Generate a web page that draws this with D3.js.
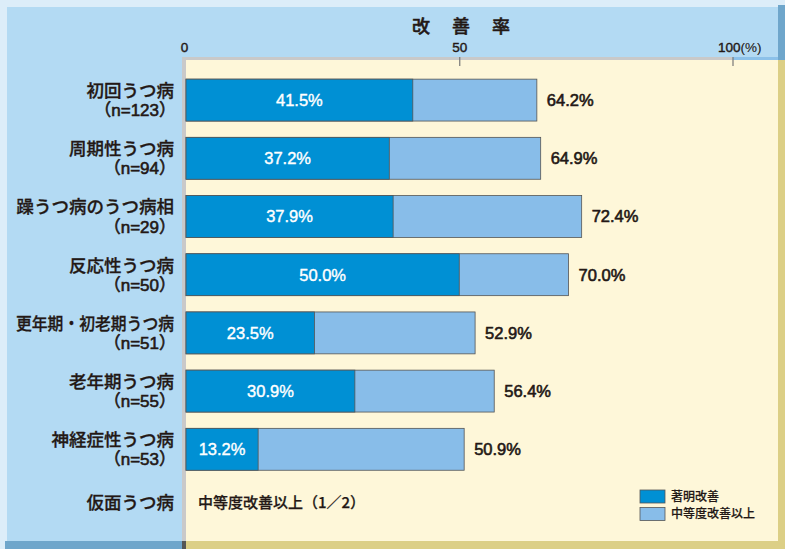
<!DOCTYPE html>
<html><head><meta charset="utf-8">
<script src="https://cdn.jsdelivr.net/npm/d3@7"></script>
<style>
html,body{margin:0;padding:0;background:#fff;}
svg{display:block;}
text{font-family:"Liberation Sans","Noto Sans CJK JP",sans-serif;fill:#231815;}
.jp{font-family:"Noto Sans CJK JP",sans-serif;font-weight:500;stroke:#231815;stroke-width:0.3px;}
.num{font-family:"Liberation Sans","Noto Sans CJK JP",sans-serif;font-weight:normal;stroke:#231815;stroke-width:0.6px;}
</style></head><body>
<script>
const categories = ["初回うつ病","周期性うつ病","躁うつ病のうつ病相","反応性うつ病","更年期・初老期うつ病","老年期うつ病","神経症性うつ病"];
const sampleSizes = ["（n=123）","（n=94）","（n=29）","（n=50）","（n=51）","（n=55）","（n=53）"];
const marked = [41.5, 37.2, 37.9, 50.0, 23.5, 30.9, 13.2];
const moderate = [64.2, 64.9, 72.4, 70.0, 52.9, 56.4, 50.9];
const tickValues = [0, 50, 100];
const extraCategory = "仮面うつ病";
const extraNote = "中等度改善以上（1／2）";
const legendLabels = ["著明改善","中等度改善以上"];
const titleChars = ["改","善","率"];

const W = 785, H = 549;
const C = {bg:"#b3daf3", light:"#dcedf9", darkBlue:"#6fa6cb", cream:"#fef7d9", tan:"#dccf86",
  gray:"#c9c9c9", dark:"#0090d4", lite:"#88bde9", stroke:"#555"};

const svg = d3.select("body").append("svg").attr("width",W).attr("height",H);

// frame
svg.append("rect").attr("x",0).attr("y",0).attr("width",W).attr("height",H).attr("fill",C.bg);
svg.append("rect").attr("x",0).attr("y",0).attr("width",W).attr("height",7).attr("fill",C.light);
svg.append("rect").attr("x",0).attr("y",0).attr("width",7).attr("height",H).attr("fill",C.light);
svg.append("rect").attr("x",778).attr("y",5).attr("width",7).attr("height",55).attr("fill",C.darkBlue);
svg.append("rect").attr("x",5).attr("y",541).attr("width",180).attr("height",8).attr("fill",C.darkBlue);
// plot area
svg.append("rect").attr("x",182).attr("y",57).attr("width",596).attr("height",484).attr("fill",C.cream);
svg.append("rect").attr("x",778).attr("y",60).attr("width",7).attr("height",489).attr("fill",C.tan);
svg.append("rect").attr("x",186).attr("y",541).attr("width",599).attr("height",8).attr("fill",C.tan);
svg.append("rect").attr("x",182).attr("y",57).attr("width",4).attr("height",484).attr("fill",C.gray);
svg.append("rect").attr("x",182).attr("y",541).attr("width",4).attr("height",8).attr("fill","#555");

const x = d3.scaleLinear().domain([0,100]).range([186, 732.5]);
svg.append("rect").attr("x",182).attr("y",57).attr("width",x(100)-182).attr("height",3).attr("fill",C.gray);
svg.append("rect").attr("x",x(100)).attr("y",57).attr("width",778-x(100)).attr("height",3).attr("fill","#8cc1e9");

const y = d3.scaleBand().domain(categories).range([71, 478.4]).paddingInner(0.28).paddingOuter(0.14);

// axis
const axis = d3.axisTop(x).tickValues(tickValues).tickSizeInner(-9).tickSizeOuter(0).tickPadding(5)
  .tickFormat(d => String(d));
const ag = svg.append("g").attr("transform","translate(0,57)").call(axis);
ag.select(".domain").remove();
ag.selectAll(".tick line").attr("stroke","#777").attr("stroke-width",1.2)
  .attr("display", d => d === 0 ? "none" : null);
ag.selectAll(".tick text").attr("class","num").attr("fill","#231815").style("font-size","13.5px")
  .style("font-family",'"Liberation Sans","Noto Sans CJK JP",sans-serif').style("stroke-width","0.4px")
  .attr("x", d => d === 0 ? -2 : 0);
ag.selectAll(".tick").filter(d => d === 100).select("text")
  .append("tspan").style("stroke-width","0.1px").text("(%)");
ag.selectAll(".tick").filter(d => d === 100).select("text").attr("text-anchor","start").attr("x",-15);

// title
svg.append("g").selectAll("text").data(titleChars).join("text").attr("class","jp")
  .attr("x",(d,i)=>421+i*40).attr("y",33).attr("text-anchor","middle")
  .style("font-size","18px").style("stroke-width","0.5px").text(d=>d);

// bars
const rows = categories.map((c,i)=>({c, n:sampleSizes[i], a:marked[i], b:moderate[i]}));
const g = svg.append("g");
g.selectAll("rect.lite").data(rows).join("rect").attr("class","lite")
  .attr("x",x(0)).attr("y",d=>y(d.c)).attr("width",d=>x(d.b)-x(0)).attr("height",y.bandwidth())
  .attr("fill",C.lite).attr("stroke",C.stroke).attr("stroke-width",0.8);
g.selectAll("rect.dark").data(rows).join("rect").attr("class","dark")
  .attr("x",x(0)).attr("y",d=>y(d.c)).attr("width",d=>x(d.a)-x(0)).attr("height",y.bandwidth())
  .attr("fill",C.dark).attr("stroke",C.stroke).attr("stroke-width",0.8);
g.selectAll("text.in").data(rows).join("text").attr("class","num in")
  .attr("x",d=>(x(0)+x(d.a))/2).attr("y",d=>y(d.c)+y.bandwidth()/2).attr("dy","0.36em")
  .attr("text-anchor","middle").style("fill","#fff").style("stroke","#fff").style("stroke-width","0.4px")
  .style("font-size","16.5px").text(d=>d.a.toFixed(1)+"%");
g.selectAll("text.out").data(rows).join("text").attr("class","num out")
  .attr("x",d=>x(d.b)+10).attr("y",d=>y(d.c)+y.bandwidth()/2).attr("dy","0.36em")
  .style("font-size","16.5px").text(d=>d.b.toFixed(1)+"%");

// category labels
const maxLabelW = 158;
const lg = svg.append("g");
lg.selectAll("text.c1").data(rows).join("text").attr("class","jp c1")
  .attr("x",174).attr("y",d=>y(d.c)+y.bandwidth()/2-9.5).attr("dy","0.36em").attr("text-anchor","end")
  .style("font-size","17.5px").text(d=>d.c)
  .each(function(){ const w=this.getComputedTextLength(); if(w>maxLabelW){ d3.select(this).attr("textLength",maxLabelW).attr("lengthAdjust","spacingAndGlyphs"); }});
lg.selectAll("text.c2").data(rows).join("text").attr("class","num c2")
  .attr("x",176).attr("y",d=>y(d.c)+y.bandwidth()/2+10).attr("dy","0.36em").attr("text-anchor","end")
  .style("font-size","17px").text(d=>d.n);

// extra row
svg.append("text").attr("class","jp").attr("x",174).attr("y",503).attr("dy","0.36em").attr("text-anchor","end")
  .style("font-size","17.5px").text(extraCategory);
svg.append("text").attr("class","jp").attr("x",198).attr("y",503).attr("dy","0.36em")
  .style("font-size","15px").style("stroke-width","0.25px").text(extraNote);

// legend
const leg = svg.append("g").attr("transform","translate(640,490)");
const lc = [C.dark, C.lite];
leg.selectAll("rect").data(legendLabels).join("rect")
  .attr("x",0).attr("y",(d,i)=>i*17.5).attr("width",25).attr("height",13)
  .attr("fill",(d,i)=>lc[i]).attr("stroke",C.stroke).attr("stroke-width",0.8);
leg.selectAll("text").data(legendLabels).join("text").attr("class","jp")
  .attr("x",31).attr("y",(d,i)=>i*17.5+6.5).attr("dy","0.36em").style("stroke-width","0.2px")
  .style("font-size","12px").text(d=>d);
</script>
</body></html>
